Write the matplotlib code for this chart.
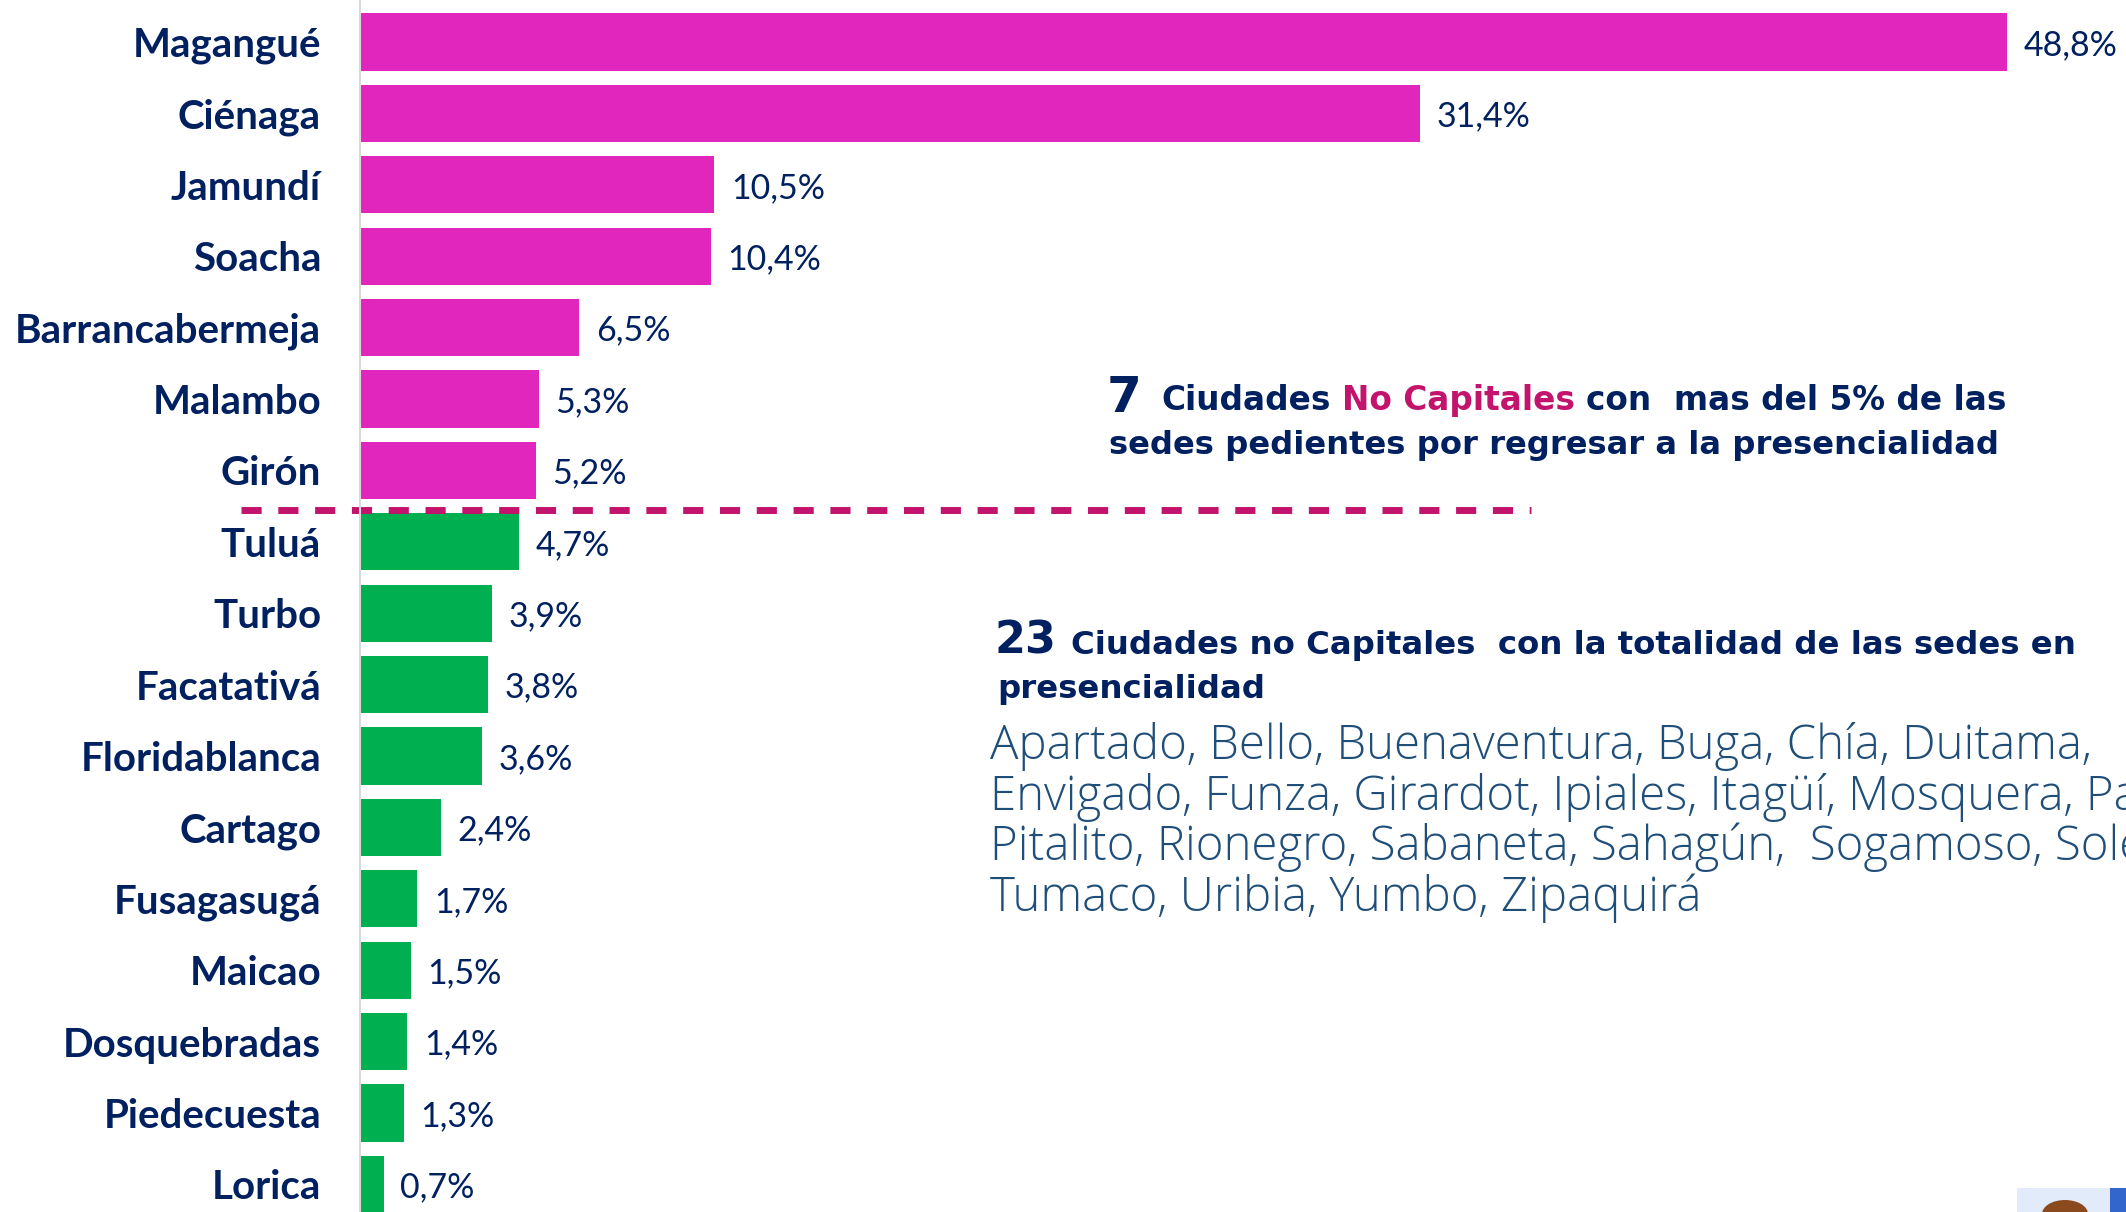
import matplotlib
matplotlib.use("Agg")
import matplotlib.pyplot as plt
from matplotlib.patches import Rectangle, Ellipse

# datos
ciudades = ["Magangué", "Ciénaga", "Jamundí", "Soacha", "Barrancabermeja", "Malambo", "Girón",
            "Tuluá", "Turbo", "Facatativá", "Floridablanca", "Cartago", "Fusagasugá", "Maicao",
            "Dosquebradas", "Piedecuesta", "Lorica"]
porcentajes = [48.8, 31.4, 10.5, 10.4, 6.5, 5.3, 5.2,
               4.7, 3.9, 3.8, 3.6, 2.4, 1.7, 1.5, 1.4, 1.3, 0.7]
n_pendientes = 7
etiquetas = [("%.1f%%" % v).replace(".", ",") for v in porcentajes]

titulo1_num = "7"
titulo1 = ["Ciudades", "No Capitales", "con  mas del 5% de las"]
titulo1_l2 = "sedes pedientes por regresar a la presencialidad"
titulo2_num = "23"
titulo2 = "Ciudades no Capitales  con la totalidad de las sedes en"
titulo2_l2 = "presencialidad"
otras = ["Apartado, Bello, Buenaventura, Buga, Chía, Duitama,",
         "Envigado, Funza, Girardot, Ipiales, Itagüí, Mosquera, Palmira,",
         "Pitalito, Rionegro, Sabaneta, Sahagún,  Sogamoso, Soledad,",
         "Tumaco, Uribia, Yumbo, Zipaquirá"]

ROSA = "#E026BC"
VERDE = "#00B050"
NAVY = "#002060"
FUCSIA = "#C2146C"
AZUL = "#1F4E79"

W, H = 2126, 1212
fig = plt.figure(figsize=(W / 100, H / 100), dpi=100)
fig.patch.set_facecolor("white")
renderer = fig.canvas.get_renderer()

# ---- barras
x0 = 360
px_por_pct = 33.75
ax = fig.add_axes([x0 / W, 0, (W - x0) / W, 1])
colores = [ROSA] * n_pendientes + [VERDE] * (len(ciudades) - n_pendientes)
pos = list(range(len(ciudades)))
ax.barh(pos, porcentajes, height=0.8, color=colores)
ax.set_xlim(0, (W - x0) / px_por_pct)
ax.set_ylim((H - 42) / 71.4, -42 / 71.4)
for s in ["top", "right", "bottom"]:
    ax.spines[s].set_visible(False)
ax.spines["left"].set_color("#D9D9D9")
ax.spines["left"].set_linewidth(1.5)
ax.set_xticks([])
ax.set_yticks(pos)
ax.set_yticklabels(ciudades, family=["Lato", "DejaVu Sans"], fontweight="bold",
                   fontsize=29, color=NAVY)
ax.tick_params(axis="y", length=0, pad=28)
for p, v, e in zip(pos, porcentajes, etiquetas):
    ax.annotate(e, (v, p), xytext=(12, 0), textcoords="offset points", va="center_baseline",
                ha="left", fontsize=24.5, color=NAVY, family=["Lato", "DejaVu Sans"],
                annotation_clip=False)

# linea de corte
ax.plot([-3.53, 34.7], [6.55, 6.55], color=FUCSIA, lw=5, dashes=(2.9, 2.4),
        clip_on=False, solid_capstyle="butt", dash_capstyle="butt")


def ancho(texto, size, family, weight):
    t = fig.text(0, 0, texto, fontsize=size, family=family, fontweight=weight)
    w = t.get_window_extent(renderer).width
    t.remove()
    return w


def ajustar(texto, objetivo, family, weight):
    return 20 * objetivo / ancho(texto, 20, family, weight)


def poner(x, y, texto, size, color, family, weight):
    fig.text(x / W, 1 - y / H, texto, fontsize=size, color=color, family=family,
             fontweight=weight, ha="left", va="baseline")
    return x + ancho(texto, size, family, weight)


FAM_T = ["DejaVu Sans"]
FAM_L = ["Open Sans", "Lato", "DejaVu Sans"]

# ---- titulo 1
poner(1107, 412, titulo1_num, 36, NAVY, FAM_T, "bold")
s1 = ajustar(" ".join(titulo1), 2007 - 1161, FAM_T, "bold")
esp = ancho("a a", s1, FAM_T, "bold") - ancho("aa", s1, FAM_T, "bold")
x = 1161
for parte, col in zip(titulo1, [NAVY, FUCSIA, NAVY]):
    x = poner(x, 410, parte, s1, col, FAM_T, "bold") + esp
poner(1109, 454, titulo1_l2, s1 * 0.985, NAVY, FAM_T, "bold")

# ---- titulo 2
x = poner(995, 654, titulo2_num, 32, NAVY, FAM_T, "bold") + 14
s2 = ajustar(titulo2, 2075 - x, FAM_T, "bold")
poner(x, 654, titulo2, s2, NAVY, FAM_T, "bold")
poner(997, 698, titulo2_l2, s2, NAVY, FAM_T, "bold")

# ---- lista de ciudades
s3 = ajustar(otras[0], 1105, FAM_L, "light")
for i, linea in enumerate(otras):
    poner(990, 759 + 50.7 * i, linea, s3, AZUL, FAM_L, "light")

# ---- fragmento de logo en la esquina
fig.patches.append(Rectangle((2017 / W, 0), 93 / W, 24 / H, transform=fig.transFigure,
                             facecolor="#E1EBFA", edgecolor="none"))
fig.patches.append(Rectangle((2110 / W, 0), 16 / W, 24 / H, transform=fig.transFigure,
                             facecolor="#3366CC", edgecolor="none"))
fig.patches.append(Ellipse((2065 / W, -2 / H), 46 / W, 28 / H, transform=fig.transFigure,
                           facecolor="#8B4A1E", edgecolor="none"))

fig.savefig("out.png", dpi=100)
